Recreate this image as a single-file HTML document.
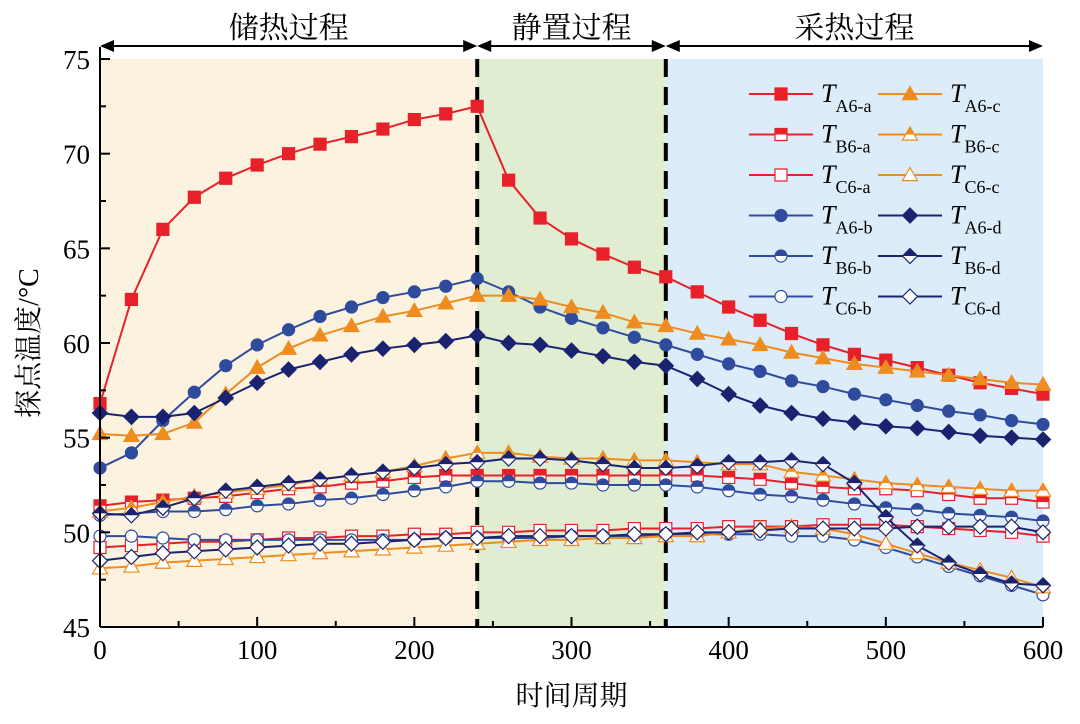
<!DOCTYPE html>
<html><head><meta charset="utf-8"><style>
html,body{margin:0;padding:0;background:#fff;}
svg{display:block;font-family:"Liberation Serif","Noto Serif CJK SC",serif;}
</style></head><body>
<svg id="c" width="1080" height="724" xmlns="http://www.w3.org/2000/svg"></svg>
<script>
const xs = [0,20,40,60,80,100,120,140,160,180,200,220,240,260,280,300,320,340,360,380,400,420,440,460,480,500,520,540,560,580,600];
const A6a = [56.8,62.3,66,67.7,68.7,69.4,70,70.5,70.9,71.3,71.8,72.1,72.5,68.6,66.6,65.5,64.7,64,63.5,62.7,61.9,61.2,60.5,59.9,59.4,59.1,58.7,58.3,57.9,57.6,57.3];
const A6c = [55.2,55.1,55.2,55.8,57.3,58.7,59.7,60.4,60.9,61.4,61.7,62.1,62.5,62.5,62.3,61.9,61.6,61.1,60.9,60.5,60.2,59.9,59.5,59.2,58.9,58.7,58.5,58.3,58.1,57.9,57.8];
const A6b = [53.4,54.2,55.9,57.4,58.8,59.9,60.7,61.4,61.9,62.4,62.7,63.0,63.4,62.7,61.9,61.3,60.8,60.3,59.9,59.4,58.9,58.5,58.0,57.7,57.3,57.0,56.7,56.4,56.2,55.9,55.7];
const A6d = [56.3,56.1,56.1,56.3,57.1,57.9,58.6,59.0,59.4,59.7,59.9,60.1,60.4,60.0,59.9,59.6,59.3,59.0,58.8,58.1,57.3,56.7,56.3,56.0,55.8,55.6,55.5,55.3,55.1,55.0,54.9];
const B6c = [51.1,51.3,51.6,51.9,52.1,52.3,52.5,52.8,53.0,53.2,53.5,53.9,54.2,54.2,54.0,53.9,53.9,53.8,53.8,53.7,53.6,53.6,53.2,53.0,52.8,52.6,52.5,52.4,52.3,52.2,52.2];
const B6a = [51.4,51.6,51.7,51.8,51.9,52.1,52.3,52.4,52.6,52.7,52.9,53.0,53.0,53.0,53.0,53.0,53.0,53.0,53.0,53.0,52.9,52.8,52.6,52.4,52.3,52.3,52.2,52.0,51.8,51.8,51.6];
const B6d = [51.0,50.9,51.3,51.8,52.2,52.4,52.6,52.8,53.0,53.2,53.4,53.6,53.7,53.9,53.9,53.8,53.6,53.4,53.4,53.5,53.7,53.7,53.8,53.6,52.6,50.8,49.3,48.4,47.8,47.3,47.2];
const B6b = [50.9,51.0,51.1,51.1,51.2,51.4,51.5,51.7,51.8,52.0,52.2,52.4,52.7,52.7,52.6,52.6,52.5,52.5,52.5,52.4,52.2,52.0,51.9,51.7,51.5,51.3,51.2,51.0,50.9,50.8,50.6];
const C6b = [49.8,49.8,49.7,49.6,49.6,49.6,49.6,49.6,49.6,49.6,49.6,49.7,49.7,49.7,49.7,49.8,49.8,49.8,49.9,49.9,49.9,49.9,49.8,49.8,49.6,49.2,48.7,48.2,47.7,47.2,46.7];
const C6a = [49.2,49.3,49.4,49.5,49.5,49.6,49.7,49.7,49.8,49.8,49.9,49.9,50.0,50.0,50.1,50.1,50.1,50.2,50.2,50.2,50.3,50.3,50.3,50.4,50.4,50.4,50.3,50.2,50.1,50.0,49.8];
const C6d = [48.5,48.7,48.9,49.0,49.1,49.2,49.3,49.4,49.4,49.5,49.6,49.7,49.7,49.8,49.8,49.8,49.8,49.9,49.9,50.0,50.0,50.1,50.2,50.2,50.2,50.2,50.3,50.3,50.3,50.3,50.0];
const C6c = [48.1,48.2,48.4,48.5,48.6,48.7,48.8,48.9,49.0,49.1,49.2,49.3,49.4,49.5,49.6,49.6,49.7,49.7,49.8,49.8,50.0,50.2,50.3,50.2,49.9,49.4,48.9,48.4,48.0,47.6,47.1];
const xTicks = [0,100,200,300,400,500,600];
const yTicks = [45,50,55,60,65,70,75];
const phases = [[0,240,'储热过程','#fbf3df'],[240,360,'静置过程','#e0edd0'],[360,600,'采热过程','#ddecf9']];

const NS='http://www.w3.org/2000/svg', svg=document.getElementById('c');
const L=100,R=1043,T=59,B=627;
const X=v=>L+(v-0)/(600)*(R-L);
const Y=v=>B-(v-45)/30*(B-T);
function el(tag,attrs,parent){const e=document.createElementNS(NS,tag);for(const k in attrs)e.setAttribute(k,attrs[k]);(parent||svg).appendChild(e);return e;}

// backgrounds
phases.forEach(p=>{
  const r=el('rect',{x:X(p[0]),y:T,width:X(p[1])-X(p[0]),height:B-T,fill:p[3]});
  
  
  const cx=(X(p[0])+X(p[1]))/2;
  const t=el('text',{x:cx,y:38,'font-size':30,'text-anchor':'middle',fill:'#000'});
  t.textContent=p[2];
  
  
});
// top arrows
[[X(0),X(240)],[X(240),X(360)],[X(360),X(600)]].forEach(a=>{
  const g=el('g',{});
  
  
  el('line',{x1:a[0]+2,y1:46,x2:a[1]-2,y2:46,stroke:'#000','stroke-width':2},g);
  el('path',{d:`M${a[0]},46 l14,-6 l0,12 z M${a[1]},46 l-14,-6 l0,12 z`,fill:'#000'},g);
});
// dashed dividers
[240,360].forEach(v=>{
  const l=el('line',{x1:X(v),y1:T,x2:X(v),y2:B,stroke:'#000','stroke-width':4,'stroke-dasharray':'18,10'});
  
  
});

const RED='#e8202a',ORG='#ef8c1f',BLU='#2f4b9e',NAV='#1b2370';
function marker(g,shape,fill,col,cx,cy){
  const s=6;
  let full,top;
  if(shape==='sq'){full=`M${cx-s},${cy-s}h${2*s}v${2*s}h${-2*s}z`;top=`M${cx-s},${cy-s}h${2*s}v${s}h${-2*s}z`;}
  if(shape==='tri'){const h=7.5;full=`M${cx},${cy-h}L${cx+h},${cy+h*0.75}L${cx-h},${cy+h*0.75}z`;top=`M${cx},${cy-h}L${cx+h*0.58},${cy}L${cx-h*0.58},${cy}z`;}
  if(shape==='cir'){full=`M${cx-s},${cy}a${s},${s} 0 1,0 ${2*s},0a${s},${s} 0 1,0 ${-2*s},0z`;top=`M${cx-s},${cy}a${s},${s} 0 0,1 ${2*s},0z`;}
  if(shape==='dia'){const h=7.5;full=`M${cx},${cy-h}L${cx+h},${cy}L${cx},${cy+h}L${cx-h},${cy}z`;top=`M${cx},${cy-h}L${cx+h},${cy}L${cx-h},${cy}z`;}
  el('path',{d:full,fill:fill==='full'?col:'#fff',stroke:col,'stroke-width':1.2},g);
  if(fill==='half')el('path',{d:top,fill:col},g);
}
const series=[
 ['T','A6','a',A6a,'sq','full',RED],['T','B6','a',B6a,'sq','half',RED],['T','C6','a',C6a,'sq','open',RED],
 ['T','A6','b',A6b,'cir','full',BLU],['T','B6','b',B6b,'cir','half',BLU],['T','C6','b',C6b,'cir','open',BLU],
 ['T','A6','c',A6c,'tri','full',ORG],['T','B6','c',B6c,'tri','half',ORG],['T','C6','c',C6c,'tri','open',ORG],
 ['T','A6','d',A6d,'dia','full',NAV],['T','B6','d',B6d,'dia','half',NAV],['T','C6','d',C6d,'dia','open',NAV]
];
series.forEach(s=>{
  const g=el('g',{});
  
  
  el('polyline',{points:xs.map((x,i)=>X(x)+','+Y(s[3][i])).join(' '),fill:'none',stroke:s[6],'stroke-width':2},g);
  xs.forEach((x,i)=>marker(g,s[4],s[5],s[6],X(x),Y(s[3][i])));
});

// axes
const ax=el('g',{});


el('line',{x1:L,y1:T-12,x2:L,y2:B,stroke:'#000','stroke-width':2},ax);
el('line',{x1:L,y1:B,x2:R,y2:B,stroke:'#000','stroke-width':2},ax);
yTicks.forEach(v=>{
  el('line',{x1:L,y1:Y(v),x2:L+10,y2:Y(v),stroke:'#000','stroke-width':2},ax);
  if(v<75)el('line',{x1:L,y1:Y(v+2.5),x2:L+6,y2:Y(v+2.5),stroke:'#000','stroke-width':2},ax);
  const t=el('text',{x:L-10,y:Y(v)+10,'font-size':27,'text-anchor':'end'});
  t.textContent=v;
  
  
});
xTicks.forEach(v=>{
  el('line',{x1:X(v),y1:B,x2:X(v),y2:B-10,stroke:'#000','stroke-width':2},ax);
  if(v<600)el('line',{x1:X(v+50),y1:B,x2:X(v+50),y2:B-6,stroke:'#000','stroke-width':2},ax);
  const t=el('text',{x:X(v),y:B+32,'font-size':27,'text-anchor':'middle'});
  t.textContent=v;
  
  
});
const xt=el('text',{x:(L+R)/2,y:705,'font-size':28,'text-anchor':'middle'});xt.textContent='时间周期';


const yt=el('text',{x:0,y:0,'font-size':28,'text-anchor':'middle',transform:`translate(38,${(T+B)/2}) rotate(-90)`});yt.textContent='探点温度/°C';



// legend
const leg=el('g',{});


const order=[[0,6],[1,7],[2,8],[3,9],[4,10],[5,11]];
order.forEach((row,r)=>{
  row.forEach((si,c)=>{
    const s=series[si];const y=94+r*40.5;const x0=c===0?749:878;
    const g=el('g',{},leg);
    
    
    el('line',{x1:x0,y1:y,x2:x0+64,y2:y,stroke:s[6],'stroke-width':2},g);
    marker(g,s[4],s[5],s[6],x0+32,y);
    const t=el('text',{x:x0+72,y:y+8,'font-size':26},g);
    const a=el('tspan',{'font-style':'italic'},t);a.textContent='T';
    const b=el('tspan',{'font-size':18,dy:10},t);b.textContent=s[1]+'-'+s[2];
  });
});
</script>
</body></html>
